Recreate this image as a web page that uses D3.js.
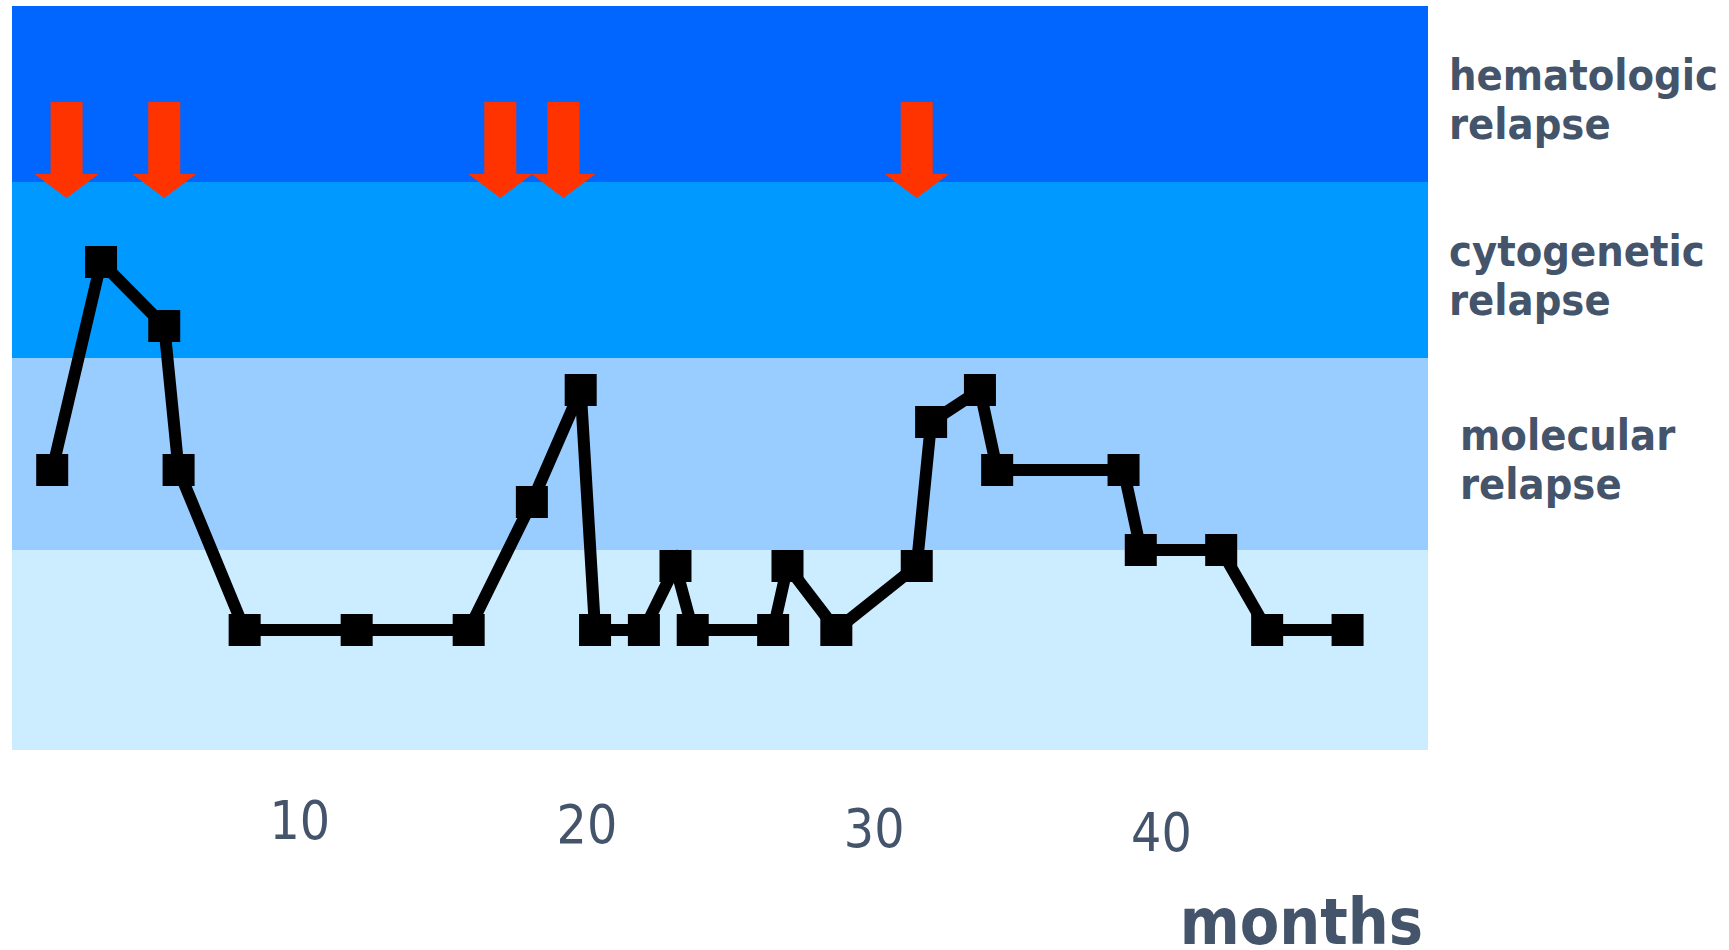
<!DOCTYPE html>
<html>
<head>
<meta charset="utf-8">
<script src="https://cdn.jsdelivr.net/npm/d3@7"></script>
<style>
  body { margin: 0; background: #fff; }
  svg { display: block; }
  .cond { font-family: 'DejaVu Sans Condensed', 'DejaVu Sans', sans-serif; font-stretch: condensed; }
</style>
</head>
<body>
<svg width="1729" height="950"></svg>
<script>
// months after start, one entry per measurement
const months = [1.4, 3.1, 5.3, 5.8, 8.1, 12.0, 15.9, 18.1, 19.8, 20.3, 22.0, 23.1, 23.7,
  26.5, 27.0, 28.7, 31.5, 32.0, 33.7, 34.3, 38.7, 39.3, 42.1, 43.7, 46.5]
// disease level (arbitrary units, bands below)
const levels = [35, 61, 53, 35, 15, 15, 15, 31, 45, 15, 15, 23, 15, 15, 23, 15, 23, 41,
  45, 35, 35, 25, 25, 15, 15]
// months of the red arrows
const arrowMonths = [1.9, 5.3, 17.0, 19.2, 31.5]

const bandNames = [null, ['molecular', 'relapse'], ['cytogenetic', 'relapse'], ['hematologic', 'relapse']]
const bandFrom = [0, 25, 49, 71]
const bandTo = [25, 49, 71, 93]
const bandColors = ['#ccecff', '#99ccff', '#0099ff', '#0066ff']

const tickValues = [10, 20, 30, 40]

const svg = d3.select('svg')
const textColor = '#44546a'

const x = d3.scaleLinear().domain([0, 49.3]).range([12, 1428])
const y = d3.scaleLinear().domain([0, 93]).range([750, 6])

// background bands
svg.append('g').selectAll('rect')
  .data(bandFrom)
  .join('rect')
  .attr('x', x(0))
  .attr('width', x(49.3) - x(0))
  .attr('y', (d, i) => y(bandTo[i]))
  .attr('height', (d, i) => y(d) - y(bandTo[i]))
  .attr('fill', (d, i) => bandColors[i])

// band labels
const labelX = [0, 1460, 1449, 1449]
const labelG = svg.append('g').attr('class', 'cond').attr('font-weight', 'bold')
  .attr('font-size', 43).attr('fill', textColor)
bandNames.forEach((name, i) => {
  if (!name) return
  const mid = (y(bandFrom[i]) + y(bandTo[i])) / 2
  const t = labelG.append('text').attr('x', labelX[i]).attr('y', mid - 4)
  name.forEach((line, j) => {
    t.append('tspan').attr('x', labelX[i]).attr('dy', j === 0 ? 0 : 49).text(line)
  })
})

// red arrows
const arrowTop = y(81)
const headTop = y(72)
const tip = y(69)
svg.append('g').selectAll('path')
  .data(arrowMonths)
  .join('path')
  .attr('fill', '#ff3300')
  .attr('d', d => {
    const cx = x(d)
    return `M${cx - 16},${arrowTop}H${cx + 16}V${headTop}H${cx + 32}L${cx},${tip}L${cx - 32},${headTop}H${cx - 16}Z`
  })

// line + markers
const points = months.map((m, i) => ({ m, v: levels[i] }))
const line = d3.line().x(d => x(d.m)).y(d => y(d.v))

svg.append('path')
  .datum(points)
  .attr('fill', 'none')
  .attr('stroke', '#000')
  .attr('stroke-width', 12)
  .attr('stroke-linejoin', 'miter')
  .attr('d', line)

svg.append('g').selectAll('rect')
  .data(points)
  .join('rect')
  .attr('x', d => x(d.m) - 16)
  .attr('y', d => y(d.v) - 16)
  .attr('width', 32)
  .attr('height', 32)
  .attr('fill', '#000')

// x axis, no line or ticks
const axis = svg.append('g')
  .attr('transform', 'translate(0,800)')
  .call(d3.axisBottom(x).tickValues(tickValues).tickSize(0).tickFormat(d3.format('d')))
axis.select('.domain').remove()
axis.selectAll('text')
  .attr('class', 'cond')
  .attr('font-size', 53)
  .attr('fill', textColor)
  .attr('dy', null)
  .attr('y', (d, i) => 39 + i * 4)

svg.append('text')
  .attr('class', 'cond')
  .attr('x', 1423)
  .attr('y', 944)
  .attr('text-anchor', 'end')
  .attr('font-weight', 'bold')
  .attr('font-size', 64)
  .attr('fill', textColor)
  .text('months')
</script>
</body>
</html>
